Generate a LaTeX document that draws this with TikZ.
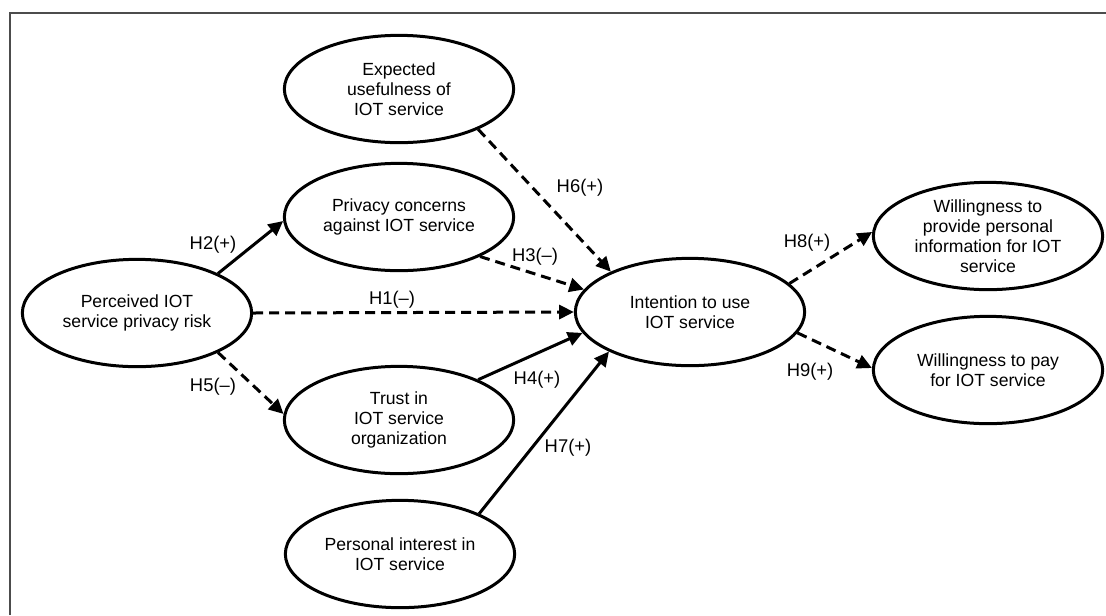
\documentclass[tikz,border=0pt]{standalone}
\usepackage{fontspec}
\setmainfont{Liberation Sans}
\usetikzlibrary{arrows.meta,shapes.geometric}
\begin{document}
\begin{tikzpicture}[x=0.75pt,y=-0.75pt,
  latent/.style={ellipse,draw,line width=2.25pt,minimum width=172pt,minimum height=80.5pt,inner sep=0pt,align=center,font=\fontsize{13.2}{15}\selectfont},
  posarrow/.style={line width=2.25pt,-{Triangle[length=11pt,width=10.5pt]}},
  negarrow/.style={posarrow,dash pattern=on 7.5pt off 4.5pt},
  hlab/.style={font=\fontsize{13.8}{15}\selectfont,inner sep=1pt}]
\useasboundingbox (0,0) rectangle (1106,615);
\coordinate (fa) at (10,615);
\coordinate (fb) at (10,13);
\coordinate (fc) at (1106,13);
\draw[line width=1.1pt,gray!60!black] (fa) -- (fb) -- (fc);

\node[latent] (eu) at (399,89) {Expected\\usefulness of\\IOT service};
\node[latent] (pc) at (399,217) {Privacy concerns\\against IOT service};
\node[latent] (per) at (137,313) {Perceived IOT\\service privacy risk};
\node[latent] (int) at (690,312) {Intention to use\\IOT service};
\node[latent] (tr) at (399,420) {Trust in\\IOT service\\organization};
\node[latent] (pi) at (400,554) {Personal interest in\\IOT service};
\node[latent] (wp) at (988,236) {Willingness to\\provide personal\\information for IOT\\service};
\node[latent] (wpay) at (988,370) {Willingness to pay\\for IOT service};

\draw[negarrow] (eu.-27) -- (int.153);
\draw[negarrow] (pc.-26) -- (int.168);
\draw[negarrow] (per.east) -- (int.west);
\draw[posarrow] (per.26) -- (pc.182);
\draw[negarrow] (per.-26) -- (tr.177);
\draw[posarrow] (tr.27) -- (int.191);
\draw[posarrow] (pi.27) -- (int.206);
\draw[negarrow] (int.16) -- (wp.178);
\draw[negarrow] (int.-11) -- (wpay.179);

\node[hlab] (l6) at (580,188) {H6(+)};
\node[hlab] (l2) at (213,245) {H2(+)};
\node[hlab] (l3) at (535,257) {H3(–)};
\node[hlab] (l1) at (392,300) {H1(–)};
\node[hlab] (l4) at (537,380) {H4(+)};
\node[hlab] (l7) at (568,448) {H7(+)};
\node[hlab] (l5) at (213,387) {H5(–)};
\node[hlab] (l8) at (807,243) {H8(+)};
\node[hlab] (l9) at (810,372) {H9(+)};
\end{tikzpicture}
\end{document}
